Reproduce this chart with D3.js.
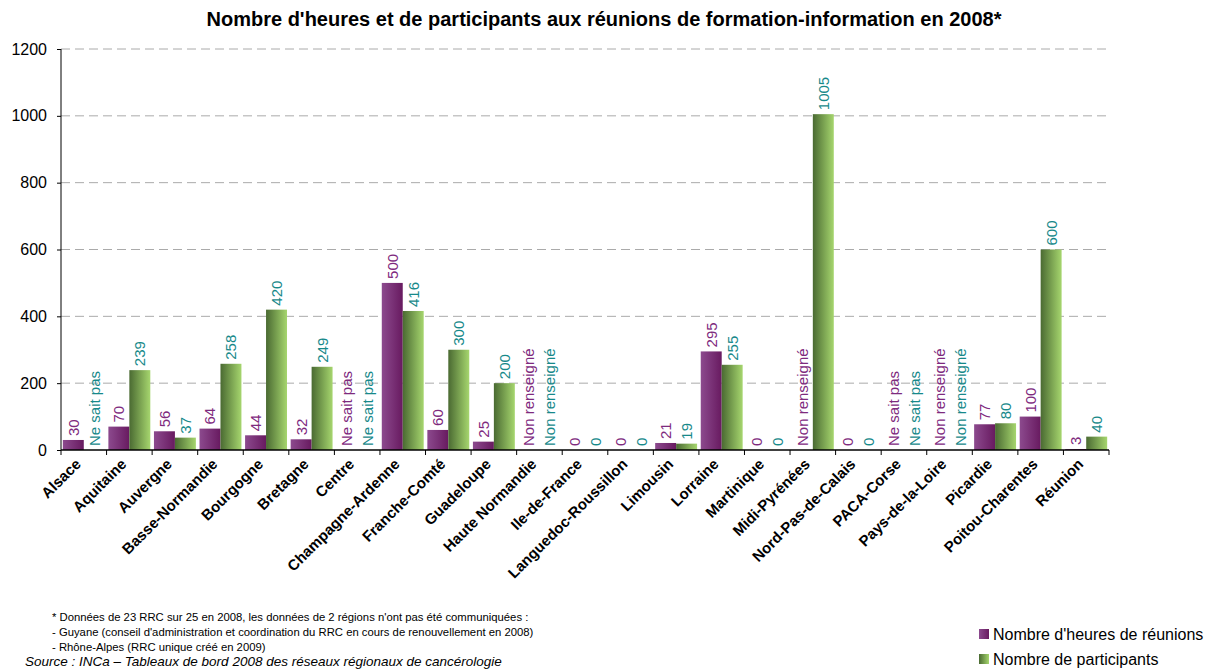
<!DOCTYPE html>
<html><head><meta charset="utf-8">
<script src="https://cdn.jsdelivr.net/npm/d3@7"></script>
<style>body{margin:0;background:#fff;} svg{display:block;font-family:"Liberation Sans",Arial,sans-serif;}</style>
</head><body>
<svg id="c" width="1208" height="669"></svg>
<script>
const categories = ["Alsace","Aquitaine","Auvergne","Basse-Normandie","Bourgogne","Bretagne","Centre","Champagne-Ardenne","Franche-Comté","Guadeloupe","Haute Normandie","Ile-de-France","Languedoc-Roussillon","Limousin","Lorraine","Martinique","Midi-Pyrénées","Nord-Pas-de-Calais","PACA-Corse","Pays-de-la-Loire","Picardie","Poitou-Charentes","Réunion"];
const heures = [30,70,56,64,44,32,"Ne sait pas",500,60,25,"Non renseigné",0,0,21,295,0,"Non renseigné",0,"Ne sait pas","Non renseigné",77,100,3];
const participants = ["Ne sait pas",239,37,258,420,249,"Ne sait pas",416,300,200,"Non renseigné",0,0,19,255,0,1005,0,"Ne sait pas","Non renseigné",80,600,40];
const seriesNames = ["Nombre d'heures de réunions","Nombre de participants"];
const yTicks = [0,200,400,600,800,1000,1200];
const title = "Nombre d'heures et de participants aux réunions de formation-information en 2008*";
const notes = ["* Données de 23 RRC sur 25 en 2008, les données de 2 régions n'ont pas été communiquées :","- Guyane (conseil d'administration et coordination du RRC en cours de renouvellement en 2008)","- Rhône-Alpes (RRC unique créé en 2009)"];
const source = "Source : INCa – Tableaux de bord 2008 des réseaux régionaux de cancérologie";

(function(){
const svg = d3.select("#c");
const defs = svg.append("defs");
function grad(id, c1, c2){
  const g = defs.append("linearGradient").attr("id",id).attr("x1","0%").attr("x2","100%").attr("y1","0%").attr("y2","0%");
  g.append("stop").attr("offset","0%").attr("stop-color",c1);
  g.append("stop").attr("offset","100%").attr("stop-color",c2);
}
grad("gp","#8c4a8e","#681a60");
grad("gg","#4a6a32","#a6d66e");
const fills = ["url(#gp)","url(#gg)"];
const labelColors = ["#7e2a7e","#17898a"];

const pl=61, pr=1109, pt=49, pb=450;
const y = d3.scaleLinear().domain([0,1200]).range([pb,pt]);
const x0 = d3.scaleBand().domain(categories).range([pl,pr]).paddingInner(0.08).paddingOuter(0.04);
const x1 = d3.scaleBand().domain([0,1]).range([0,x0.bandwidth()]).padding(0);

svg.append("text").attr("x",604).attr("y",26).attr("text-anchor","middle")
  .attr("font-weight","bold").attr("font-size",20).attr("fill","#000").text(title);

svg.append("g").selectAll("line").data(yTicks.filter(d=>d>0)).join("line")
  .attr("x1",pl).attr("x2",pr).attr("y1",d=>y(d)).attr("y2",d=>y(d))
  .attr("stroke","#aaaaaa").attr("stroke-width",1).attr("stroke-dasharray","9,5");

const ya = svg.append("g").attr("transform",`translate(${pl},0)`)
  .call(d3.axisLeft(y).tickValues(yTicks).tickSize(4).tickPadding(10).tickFormat(d3.format("d")));
ya.select(".domain").attr("stroke","#000").attr("d",`M0,${pt}V${pb}`);
ya.selectAll("text").attr("font-size",16).attr("font-family","Liberation Sans, Arial").attr("fill","#000");
ya.selectAll("line").attr("stroke","#000");

const rows = categories.map((c,i)=>({c, vals:[heures[i],participants[i]]}));
const g = svg.append("g");
const grp = g.selectAll("g").data(rows).join("g").attr("transform",d=>`translate(${x0(d.c)},0)`);
grp.selectAll("rect").data(d=>d.vals.map((v,k)=>({v,k})).filter(e=>typeof e.v==="number" && e.v>0)).join("rect")
  .attr("x",e=>x1(e.k)).attr("width",x1.bandwidth())
  .attr("y",e=>y(e.v)).attr("height",e=>pb-y(e.v))
  .attr("fill",e=>fills[e.k]);
grp.selectAll("text").data(d=>d.vals.map((v,k)=>({v,k}))).join("text")
  .attr("transform",e=>{const v = typeof e.v==="number"?e.v:0; return `translate(${x1(e.k)+x1.bandwidth()/2+5.5},${y(v)-4}) rotate(-90)`;})
  .attr("font-size",15).attr("fill",e=>labelColors[e.k]).attr("text-anchor","start")
  .text(e=>e.v);

svg.append("line").attr("x1",pl).attr("x2",pr).attr("y1",pb).attr("y2",pb).attr("stroke","#000").attr("stroke-width",1.5);
const bounds = categories.map(c=>x0(c)-x0.step()*x0.paddingInner()/2);
bounds.push(pr);
bounds[0]=pl;
svg.append("g").selectAll("line").data(bounds).join("line")
  .attr("x1",d=>d).attr("x2",d=>d).attr("y1",pb).attr("y2",pb+5).attr("stroke","#000");
svg.append("g").selectAll("text").data(categories).join("text")
  .attr("transform",d=>`translate(${x0(d)+x0.bandwidth()/2-2},${pb+15}) rotate(-45)`)
  .attr("text-anchor","end").attr("font-weight","bold").attr("font-size",15).attr("fill","#000").text(d=>d);

svg.append("g").selectAll("text").data(notes).join("text")
  .attr("x",52).attr("y",(d,i)=>621+i*15).attr("font-size",11.3).attr("fill","#000").text(d=>d);
svg.append("text").attr("x",25).attr("y",666).attr("font-size",13.5).attr("font-style","italic").attr("fill","#000").text(source);

const lg = svg.append("g").selectAll("g").data(seriesNames).join("g").attr("transform",(d,i)=>`translate(979,${629+i*25})`);
lg.append("rect").attr("width",10).attr("height",10).attr("fill",(d,i)=>fills[i]);
lg.append("text").attr("x",14).attr("y",10.5).attr("font-size",16).attr("fill","#000").text(d=>d);
})();
</script>
</body></html>
